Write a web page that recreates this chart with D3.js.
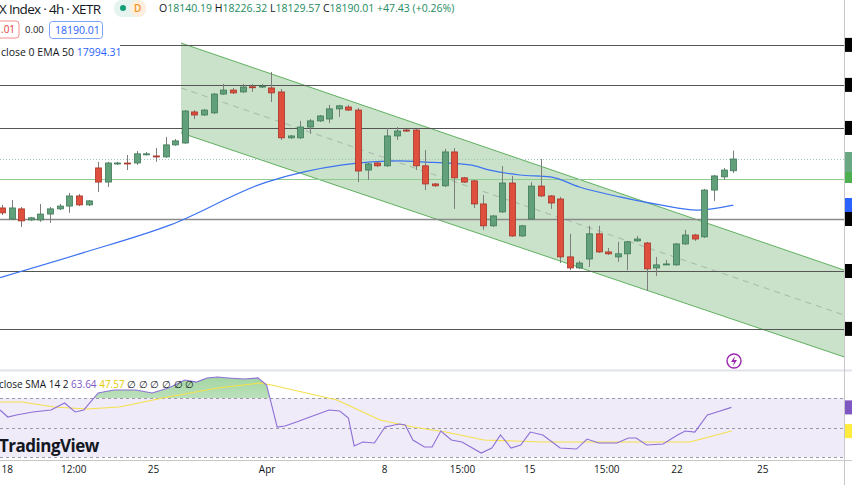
<!DOCTYPE html>
<html><head><meta charset="utf-8">
<script src="https://cdn.jsdelivr.net/npm/d3@7"></script>
<style>body{margin:0;background:#fff}svg{display:block;font-family:"Open Sans",Roboto,sans-serif}</style>
</head><body><svg id="c" width="852" height="485"></svg>
<script>
// Candles: [open, high, low, close]
const candles = [
[17982,17995,17952,17961],[17935,18016,17931,17982],[17978,17986,17901,17927],[17931,17944,17927,17940],
[17931,17999,17923,17956],[17956,17986,17918,17978],[17978,17999,17973,17990],[17990,18046,17961,18033],
[18033,18041,17990,17995],[17995,18016,17990,18012],[18152,18178,18050,18092],[18092,18178,18071,18173],
[18171,18178,18165,18173],[18173,18207,18143,18169],[18173,18224,18165,18212],[18210,18220,18205,18212],
[18203,18237,18178,18199],[18199,18284,18195,18250],[18250,18275,18246,18267],[18258,18398,18254,18394],
[18390,18398,18360,18377],[18377,18403,18373,18398],[18386,18471,18381,18466],[18466,18509,18462,18483],
[18483,18492,18466,18471],[18475,18509,18471,18496],[18497,18509,18475,18494],[18496,18509,18492,18500],
[18492,18560,18432,18471],[18475,18488,18271,18280],[18280,18292,18275,18288],[18280,18352,18275,18326],
[18326,18360,18297,18352],[18352,18377,18347,18373],[18360,18420,18343,18403],[18403,18420,18369,18416],
[18411,18420,18394,18398],[18398,18407,18092,18139],[18143,18173,18101,18169],[18173,18178,18156,18161],
[18161,18322,18156,18288],[18288,18326,18271,18309],[18313,18318,18305,18309],[18313,18318,18143,18161],
[18161,18228,18058,18084],[18084,18088,18071,18076],[18076,18233,18071,18220],[18220,18237,17978,18110],
[18110,18114,18088,18092],[18097,18101,17982,17999],[17999,18037,17889,17906],[17906,17952,17901,17948],
[17965,18160,17961,18088],[18088,18118,17859,17863],[17863,17910,17859,17906],[17935,18092,17931,18075],
[18075,18190,18029,18033],[18033,18037,17978,18003],[18020,18029,17748,17774],[17774,17872,17718,17727],
[17727,17757,17723,17748],[17765,17906,17731,17872],[17872,17906,17791,17795],[17795,17812,17782,17787],
[17774,17838,17753,17787],[17787,17842,17718,17838],[17842,17863,17838,17850],[17833,17838,17629,17723],
[17727,17774,17693,17740],[17742,17761,17740,17744],[17740,17833,17736,17829],[17829,17889,17825,17867],
[17867,17872,17842,17850],[17859,18063,17855,18058],[18058,18122,18012,18118],[18114,18152,18101,18143],
[18140,18226,18130,18190]];
const emaIdx = [-0.2,8.4,17.5,27.5,35.4,41.4,43.5,48.6,50.7,53.8,57,60,64.2,68.4,72.2,76];
const emaVal = [17686,17791,17910,18092,18165,18182,18178,18165,18143,18122,18114,18071,18029,17995,17973,17994.31];
const rsiIdx = [-0.2,0.6,1.5,3.2,5.1,6.5,7.6,8.5,10,11.6,13.9,15.6,17.3,19,20.2,21.3,22.4,23.5,25.2,26.6,27.5,28.6,29.4,30.6,32,34,35.1,36,36.6,37.5,38.7,39.8,41.3,41.9,42.7,43.9,44.7,45.6,46.7,47.8,49.8,50.9,51.8,52.9,53.9,54.9,56.2,58,59.7,60.8,62,63.9,65.1,65.9,67,68.7,70.2,71,72,73.3,74.3,75.8];
const rsiVal = [61.9,57.1,58.5,60.5,61.9,66.6,60.5,61.9,73.4,75.4,75.4,73.4,76.8,82.2,80.8,83.6,84.2,83.6,82.9,83.6,78.8,50.3,51,53.7,57.1,61.9,61.2,56.4,37.5,40.2,39.5,50.3,52.4,51.7,41.5,36.8,36.8,47.6,41.5,40.2,32.7,36.1,44.9,36.1,38.1,46.9,44.9,36.1,35.4,42.2,39.5,39.5,42.9,42.9,38.1,38.8,44.9,47.6,46.9,58.5,60.5,63.64];
const smaIdx = [-0.2,2.1,5.4,8.8,12.2,16.7,22.4,26.9,28,34.8,39.3,42.7,46.1,50.1,56.2,62,71.5,75.8];
const smaVal = [67.3,67.3,63.9,62.5,63.9,70,76.8,80.2,78.8,68.6,55.1,50.3,46.9,41.5,40.2,40.2,40.2,47.57];
const hLevels = [18675,18505,18322,17935,17714,17468];
const greenLevel = 18105, lastPrice = 18190.01;
const channelIdx = [18.6,87.5];
const channelUpper = [18683,17718], channelLower = [18301,17349], channelMid = [18492,17527];
const tickIdx = [0.5,7.4,15.7,27.5,39.7,47.8,54.8,62.8,70.1,79];
const tickLabels = ["18","12:00","25","Apr","8","15:00","15","15:00","22","25"];

const svg = d3.select("#c");
const x = d3.scaleLinear().domain([0,87.5]).range([2,844]);
const y = d3.scaleLinear().domain([18190,18190-4.25*211]).range([159,370]);
const yr = d3.scaleLinear().domain([70,30]).range([398,457]);
const price = svg.append("g");
price.append("defs").append("clipPath").attr("id","pc").append("rect").attr("x",0).attr("y",36).attr("width",844).attr("height",334);
const g = price.append("g").attr("clip-path","url(#pc)");
const poly = [[x(channelIdx[0]),y(channelUpper[0])],[x(channelIdx[1]),y(channelUpper[1])],[x(channelIdx[1]),y(channelLower[1])],[x(channelIdx[0]),y(channelLower[0])]];
g.append("path").attr("d",d3.line()(poly)+"Z").attr("fill","#c9e2c9");
const ln=(a,b,c,col,w,dash)=>g.append("line").attr("x1",x(channelIdx[0])).attr("x2",x(channelIdx[1])).attr("y1",y(a)).attr("y2",y(b)).attr("stroke",col).attr("stroke-width",w).attr("stroke-dasharray",dash||null);
ln(channelUpper[0],channelUpper[1],0,"#5fb05f",1);
ln(channelLower[0],channelLower[1],0,"#5fb05f",1);
ln(channelMid[0],channelMid[1],0,"#aab6aa",1,"6,5");
hLevels.forEach((p,i)=>g.append("line").attr("x1",0).attr("x2",844).attr("y1",Math.round(y(p))+0.5).attr("y2",Math.round(y(p))+0.5).attr("stroke",i==3?"#8a8a8a":"#555").attr("stroke-width",i==3?1.6:1));
g.append("line").attr("x1",0).attr("x2",844).attr("y1",Math.round(y(greenLevel))+0.5).attr("y2",Math.round(y(greenLevel))+0.5).attr("stroke","#8fcb8f");
g.append("line").attr("x1",0).attr("x2",844).attr("y1",Math.round(y(lastPrice))+0.5).attr("y2",Math.round(y(lastPrice))+0.5).attr("stroke","#9cc8b8").attr("stroke-dasharray","1,2");
g.append("path").datum(emaIdx.map((d,i)=>[d,emaVal[i]])).attr("fill","none").attr("stroke","#3d73f0").attr("stroke-width",1.2)
 .attr("d",d3.line().x(d=>x(d[0])).y(d=>y(d[1])).curve(d3.curveMonotoneX));
candles.forEach((c,i)=>{
  const [o,h,l,cl]=c, up=cl>=o, cx=Math.round(x(i))+0.5;
  g.append("line").attr("x1",cx).attr("x2",cx).attr("y1",y(h)).attr("y2",y(l)).attr("stroke","#7d7d7d");
  const top=y(Math.max(o,cl)), bot=y(Math.min(o,cl));
  g.append("rect").attr("x",cx-3).attr("width",6).attr("y",top).attr("height",Math.max(1,bot-top))
   .attr("fill",up?"#62a07c":"#de4f3d").attr("stroke",up?"#3f7a57":"#a83428").attr("stroke-width",0.8);
});
svg.append("rect").attr("x",0).attr("y",36).attr("width",120).attr("height",26).attr("fill","#fff");
svg.append("text").attr("x",-1).attr("y",14).attr("font-size",13.5).attr("fill","#131722").attr("textLength",102).text("X Index · 4h · XETR");
svg.append("rect").attr("x",114).attr("y",0).attr("width",32).attr("height",17).attr("rx",8).attr("fill","#e6f4ef");
svg.append("rect").attr("x",130).attr("y",0).attr("width",16).attr("height",17).attr("rx",8).attr("fill","#fdeede");
svg.append("circle").attr("cx",123).attr("cy",8).attr("r",3).attr("fill","#159e7a");
svg.append("text").attr("x",134).attr("y",12).attr("font-size",10).attr("font-weight",600).attr("fill","#f7931a").text("D");
const ohlc=svg.append("text").attr("x",159).attr("y",12).attr("font-size",10.5).attr("fill","#131722");
[["O","18140.19"],["H","18226.32"],["L","18129.57"],["C","18190.01"]].forEach(([k,v])=>{ohlc.append("tspan").text(k);ohlc.append("tspan").attr("fill","#1e8a5e").text(v+"  ");});
ohlc.append("tspan").attr("fill","#1e8a5e").text("+47.43 (+0.26%)");
svg.append("rect").attr("x",-5).attr("y",21).attr("width",24).attr("height",17).attr("rx",3).attr("fill","#fff").attr("stroke","#f28b8b");
svg.append("text").attr("x",1).attr("y",33).attr("font-size",10).attr("fill","#e53935").text(".01");
svg.append("text").attr("x",25).attr("y",33).attr("font-size",9.5).attr("fill","#131722").text("0.00");
svg.append("rect").attr("x",49.5).attr("y",21.5).attr("width",53).attr("height",17).attr("rx",3).attr("fill","#fff").attr("stroke","#7ea1f5");
svg.append("text").attr("x",55).attr("y",34).attr("font-size",10.5).attr("fill","#2962ff").text("18190.01");
const el=svg.append("text").attr("x",1).attr("y",56).attr("font-size",10.5).attr("fill","#131722").text("close 0 EMA 50  ");
el.append("tspan").attr("fill","#2962ff").text("17994.31");
svg.append("line").attr("x1",0).attr("x2",852).attr("y1",370.5).attr("y2",370.5).attr("stroke","#e0e3eb").attr("stroke-width",2);
const r=svg.append("g");
r.append("rect").attr("x",0).attr("width",844).attr("y",yr(70)).attr("height",yr(30)-yr(70)).attr("fill","#efebf8");
[70,50,30].forEach(v=>r.append("line").attr("x1",0).attr("x2",844).attr("y1",Math.round(yr(v))+0.5).attr("y2",Math.round(yr(v))+0.5).attr("stroke","#9a9aa6").attr("stroke-dasharray","3,3"));
const rsiPts=rsiIdx.map((d,i)=>[d,rsiVal[i]]);
const grad=r.append("defs").append("linearGradient").attr("id","gg").attr("x1",0).attr("x2",0).attr("y1",0).attr("y2",1);
grad.append("stop").attr("offset","0").attr("stop-color","#7cc47c").attr("stop-opacity",0.7);
grad.append("stop").attr("offset","1").attr("stop-color","#7cc47c").attr("stop-opacity",0.05);
r.append("clipPath").attr("id","ob").append("rect").attr("x",0).attr("y",371).attr("width",844).attr("height",yr(70)-371);
r.append("path").datum(rsiPts).attr("clip-path","url(#ob)").attr("fill","url(#gg)")
 .attr("d",d3.area().x(d=>x(d[0])).y0(yr(70)).y1(d=>yr(d[1])));
r.append("path").datum(smaIdx.map((d,i)=>[d,smaVal[i]])).attr("fill","none").attr("stroke","#f5e04a").attr("stroke-width",1.1)
 .attr("d",d3.line().x(d=>x(d[0])).y(d=>yr(d[1])));
r.append("path").datum(rsiPts).attr("fill","none").attr("stroke","#8e6fd6").attr("stroke-width",1.1)
 .attr("d",d3.line().x(d=>x(d[0])).y(d=>yr(d[1])));
const rl=r.append("text").attr("x",-1).attr("y",388).attr("font-size",10).attr("fill","#131722").text("close SMA 14 2  ");
rl.append("tspan").attr("fill","#7e57c2").text("63.64 ");
rl.append("tspan").attr("fill","#e6c800").text("47.57  ");
rl.append("tspan").text("∅ ∅ ∅ ∅ ∅ ∅");
r.append("text").attr("x",-1).attr("y",452).attr("font-size",17).attr("font-weight",700).attr("fill","#131722").attr("letter-spacing",-0.5).text("TradingView");
svg.append("line").attr("x1",0).attr("x2",852).attr("y1",460.5).attr("y2",460.5).attr("stroke","#c8c8cc");
const xa=d3.axisBottom(x).tickValues(tickIdx).tickFormat((d,i)=>tickLabels[i]).tickSize(0).tickPadding(0);
const ag=svg.append("g").attr("transform","translate(0,466)").call(xa);
ag.select(".domain").remove();
ag.selectAll("text").attr("font-size",10).attr("fill","#131722").attr("dy","0.71em").attr("font-family","Open Sans,sans-serif");
svg.append("line").attr("x1",844.5).attr("x2",844.5).attr("y1",0).attr("y2",485).attr("stroke","#c8c8cc");
hLevels.forEach(p=>svg.append("rect").attr("x",845).attr("y",y(p)-7).attr("width",7).attr("height",14).attr("fill","#000"));
svg.append("rect").attr("x",845).attr("y",y(lastPrice)-7).attr("width",7).attr("height",20).attr("fill","#6aa883");
svg.append("rect").attr("x",845).attr("y",y(greenLevel)-7).attr("width",7).attr("height",11).attr("fill","#4caf50");
svg.append("rect").attr("x",845).attr("y",y(17994.31)-7).attr("width",7).attr("height",14).attr("fill","#2962ff");
svg.append("rect").attr("x",845).attr("y",yr(63.64)-7).attr("width",7).attr("height",14).attr("fill","#7e57c2");
svg.append("rect").attr("x",845).attr("y",yr(47.57)-7).attr("width",7).attr("height",14).attr("fill","#ffeb3b");
svg.append("circle").attr("cx",734).attr("cy",361).attr("r",7).attr("fill","#fff").attr("stroke","#9c27b0").attr("stroke-width",1.4);
svg.append("path").attr("d","M735,356 L731,362 L734,362 L733,366 L737,360 L734,360 Z").attr("fill","#9c27b0");
</script></body></html>
